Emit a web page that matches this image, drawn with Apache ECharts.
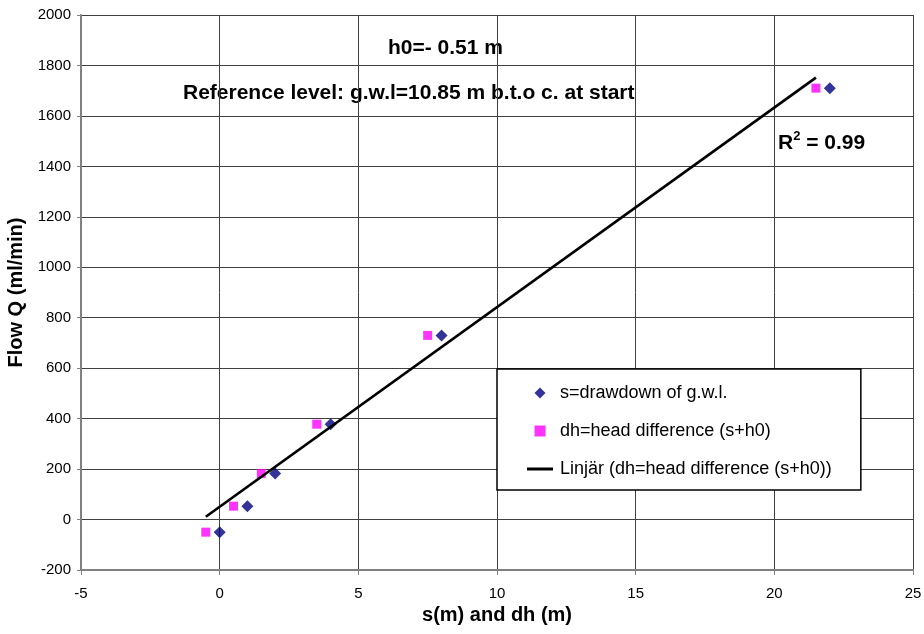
<!DOCTYPE html>
<html>
<head>
<meta charset="utf-8">
<script src="https://cdn.jsdelivr.net/npm/echarts@6/dist/echarts.min.js"></script>
<style>
html,body{margin:0;padding:0;background:#fff;}
#chart{width:924px;height:634px;}
</style>
</head>
<body>
<div id="chart"></div>
<script>
// Data
var sValues = [0, 1, 2, 4, 8, 22];            // s = drawdown (m)
var dhValues = [-0.5, 0.5, 1.5, 3.5, 7.5, 21.5]; // dh = s + h0 (m)
var flowValues = [-50, 53, 183, 378, 730, 1710]; // Q (ml/min)
var trendX = [-0.5, 21.5];
var trendY = [11, 1752];

var sName = 's=drawdown of g.w.l.';
var dhName = 'dh=head difference (s+h0)';
var trendName = 'Linjär (dh=head difference (s+h0))';

function pairs(xs, ys) {
  return xs.map(function (x, i) { return [x, ys[i]]; });
}

var chart = echarts.init(document.getElementById('chart'), null, {renderer: 'canvas'});
var font = 'Liberation Sans, Arial, sans-serif';

chart.setOption({
  animation: false,
  backgroundColor: '#ffffff',
  textStyle: {fontFamily: font},
  grid: {left: 81, right: 11, top: 15, bottom: 64, containLabel: false, outerBoundsMode: 'none'},
  xAxis: {
    type: 'value', min: -5, max: 25, interval: 5,
    name: 's(m) and dh (m)', nameLocation: 'middle', nameGap: 34,
    nameTextStyle: {fontFamily: font, fontSize: 20, fontWeight: 'bold', color: '#000'},
    axisLine: {show: true, onZero: false, lineStyle: {color: '#808080', width: 2}},
    axisTick: {show: true, length: 5, lineStyle: {color: '#808080', width: 1}},
    axisLabel: {fontFamily: font, fontSize: 15, color: '#000', margin: 16, formatter: function (v) { return String(v); }},
    splitLine: {show: true, lineStyle: {color: '#404040', width: 1}}
  },
  yAxis: {
    type: 'value', min: -200, max: 2000, interval: 200,
    name: 'Flow Q (ml/min)', nameLocation: 'middle', nameGap: 48, nameRotate: 90,
    nameTextStyle: {fontFamily: font, fontSize: 20, fontWeight: 'bold', color: '#000'},
    axisLine: {show: true, onZero: false, lineStyle: {color: '#808080', width: 2}},
    axisTick: {show: true, length: 4, lineStyle: {color: '#808080', width: 1}},
    axisLabel: {fontFamily: font, fontSize: 15, color: '#000', margin: 10, formatter: function (v) { return String(v); }},
    splitLine: {show: true, lineStyle: {color: '#404040', width: 1}}
  },
  legend: {
    orient: 'vertical',
    left: 497, top: 369,
    padding: [15, 29, 12, 30],
    itemGap: 20,
    itemWidth: 26, itemHeight: 11,
    symbolKeepAspect: true,
    backgroundColor: '#ffffff',
    borderColor: '#000000', borderWidth: 1.5,
    textStyle: {fontFamily: font, fontSize: 18, color: '#000', padding: [0, 0, 0, 2]},
    data: [
      {name: sName, icon: 'path://M5,0 L10,5 L5,10 L0,5 Z'},
      {name: dhName, icon: 'path://M0,0 L9,0 L9,9 L0,9 Z'},
      {name: trendName, icon: 'path://M0,0 L26,0 L26,3 L0,3 Z'}
    ],
    z: 20
  },
  graphic: [
    {type: 'text', left: 388, top: 38, style: {text: 'h0=- 0.51 m', font: 'bold 21px ' + font, fill: '#000'}},
    {type: 'text', left: 183, top: 83, style: {text: 'Reference level: g.w.l=10.85 m b.t.o c. at start', font: 'bold 21px ' + font, fill: '#000'}},
    {type: 'text', left: 778, top: 130, style: {
      text: 'R{sup|2} = 0.99', font: 'bold 21px ' + font, fill: '#000',
      rich: {sup: {fontSize: 13, fontWeight: 'bold', fontFamily: font, verticalAlign: 'top', padding: [0, 0, 14, 0]}}
    }}
  ],
  series: [
    {
      name: sName, type: 'scatter', data: pairs(sValues, flowValues),
      symbol: 'diamond', symbolSize: 12,
      itemStyle: {color: '#000080'}, z: 5
    },
    {
      name: dhName, type: 'scatter', data: pairs(dhValues, flowValues),
      symbol: 'rect', symbolSize: 9,
      itemStyle: {color: '#ff00ff'}, z: 4
    },
    {
      name: trendName, type: 'line', data: pairs(trendX, trendY),
      showSymbol: false, symbol: 'none',
      lineStyle: {color: '#000', width: 2.7},
      itemStyle: {color: '#000'}, z: 6
    }
  ]
});
</script>
</body>
</html>
